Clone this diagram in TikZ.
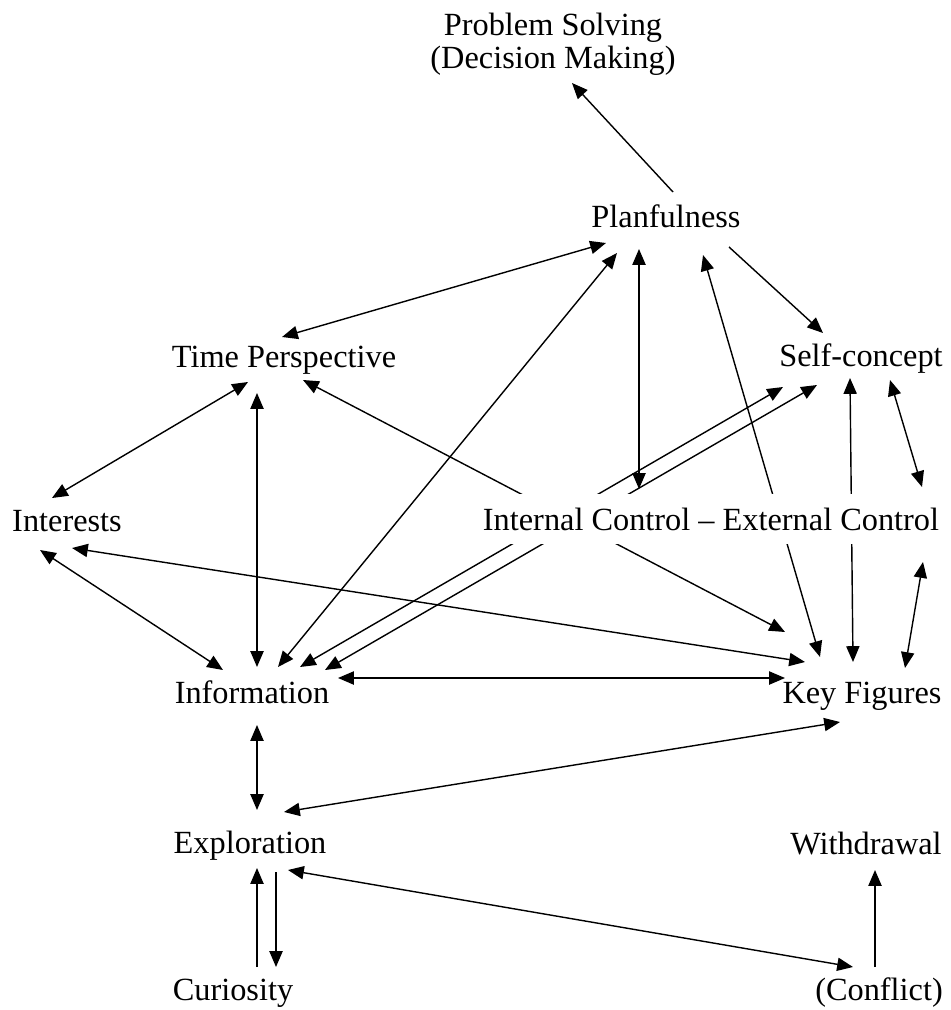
\documentclass[tikz,border=0pt]{standalone}
\usepackage{fontspec}
\setmainfont{Liberation Serif}
\usetikzlibrary{arrows.meta,calc}
\pgfdeclarelayer{bg}
\pgfsetlayers{bg,main}
\begin{document}
\begin{tikzpicture}[x=0.02cm,y=-0.02cm,
  lbl/.style={anchor=base,inner sep=0pt,font=\fontsize{18.4}{19}\selectfont},
  link/.style={line width=0.8pt,{Triangle[length=9pt,width=7.5pt]}-{Triangle[length=9pt,width=7.5pt]}},
  one/.style={line width=0.8pt,-{Triangle[length=9pt,width=7.5pt]}}]
\useasboundingbox (0,0) rectangle (950,1010);
% nodes
\node[lbl,anchor=center,align=center] (ps) at (553,44) {Problem Solving\\(Decision Making)};
\node[lbl] (plan) at (666,228) {Planfulness};
\node[lbl] (tp) at (284,367) {Time Perspective};
\node[lbl] (sc) at (861,366) {Self-concept};
\node[lbl] (int) at (67,531) {Interests};
\node[lbl,fill=white,inner xsep=2pt,inner ysep=8pt] (ic) at (711,530) {Internal Control \textendash{} External Control};
\node[lbl] (info) at (252,703) {Information};
\node[lbl] (kf) at (862,703) {Key Figures};
\node[lbl] (expl) at (250,853) {Exploration};
\node[lbl] (wd) at (866,854) {Withdrawal};
\node[lbl] (cur) at (233,1000) {Curiosity};
\node[lbl] (conf) at (879,1000) {(Conflict)};
% connectors
\begin{pgfonlayer}{bg}
\fill[white] (0,0) rectangle (950,1010);
\draw[one]  ($(plan.base)+(7,-36)$) -- ($(ps.center)+(19,39)$);
\draw[link] ($(tp.base)+(-2,-30)$) -- ($(plan.base)+(-60,15)$);
\draw[link] ($(info.base)+(26,-36)$) -- ($(plan.base)+(-49,25)$);
\draw[link] ($(plan.base)+(-27,21)$) -- ($(ic.base)+(-72,-41)$);
\draw[link] ($(plan.base)+(37,27)$) -- ($(kf.base)+(-42,-46)$);
\draw[one]  ($(plan.base)+(63,19)$) -- ($(sc.base)+(-38,-33)$);
\draw[link] ($(tp.base)+(-36,15)$) -- ($(int.base)+(-15,-33)$);
\draw[link] ($(tp.base)+(-27,26)$) -- ($(info.base)+(5,-36)$);
\draw[link] ($(tp.base)+(19,13)$) -- ($(kf.base)+(-77,-71)$);
\draw[link] ($(info.base)+(48,-36)$) -- ($(sc.base)+(-78,21)$);
\draw[link] ($(info.base)+(73,-33)$) -- ($(sc.base)+(-44,19)$);
\draw[link] ($(int.base)+(5,17)$) -- ($(kf.base)+(-57,-41)$);
\draw[link] ($(int.base)+(-27,19)$) -- ($(info.base)+(-29,-33)$);
\draw[link] ($(info.base)+(86,-25)$) -- ($(kf.base)+(-77,-25)$);
\draw[link] ($(sc.base)+(-11,12)$) -- ($(kf.base)+(-9,-41)$);
\draw[link] ($(sc.base)+(29,14)$) -- ($(ic.base)+(211,-43)$);
\draw[link] ($(ic.base)+(212,32)$) -- ($(kf.base)+(43,-35)$);
\draw[link] ($(info.base)+(5,22)$) -- ($(expl.base)+(7,-43)$);
\draw[link] ($(expl.base)+(34,-41)$) -- ($(kf.base)+(-22,19)$);
\draw[link] ($(expl.base)+(38,17)$) -- ($(conf.base)+(-26,-33)$);
\draw[one]  ($(cur.base)+(24,-33)$) -- ($(expl.base)+(7,15)$);
\draw[one]  ($(expl.base)+(26,19)$) -- ($(cur.base)+(43,-33)$);
\draw[one]  ($(conf.base)+(-4,-33)$) -- ($(wd.base)+(9,16)$);
\end{pgfonlayer}
\end{tikzpicture}
\end{document}
